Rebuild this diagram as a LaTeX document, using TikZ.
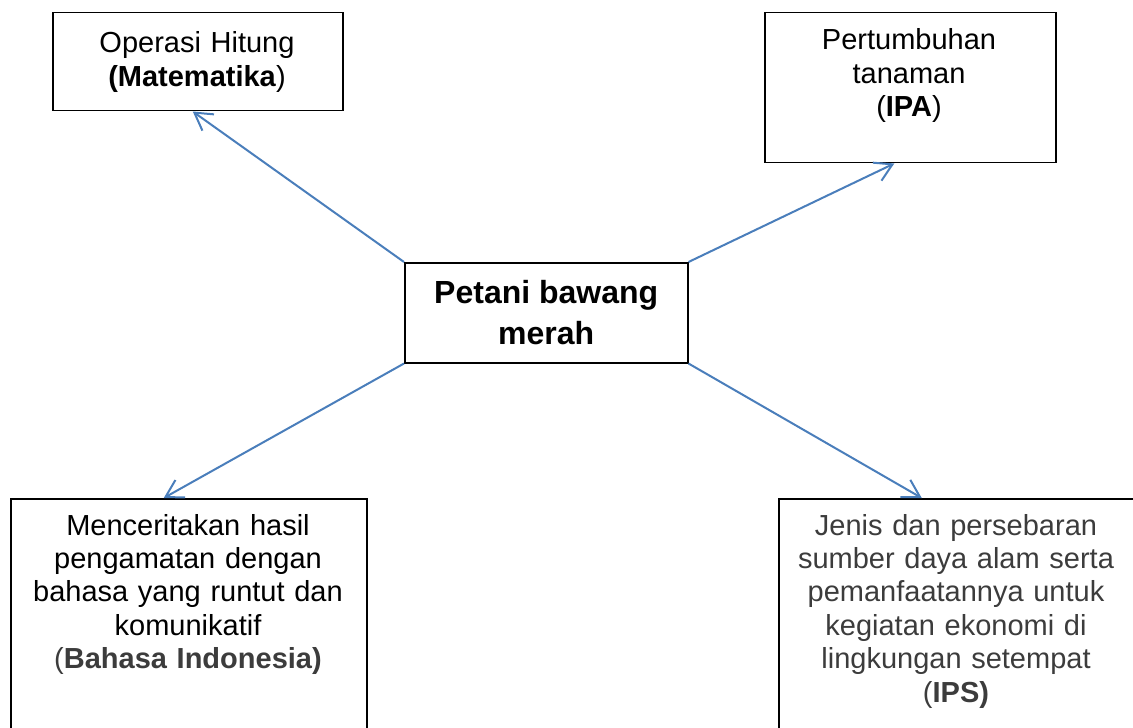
\documentclass[tikz,border=0pt]{standalone}
\usepackage{fontspec}
\setmainfont{Liberation Sans}
\usetikzlibrary{positioning, arrows.meta}
\definecolor{biru}{RGB}{74,126,187}
\definecolor{abu}{RGB}{60,60,60}

\begin{document}
\begin{tikzpicture}[x=0.5pt, y=-0.5pt,
  kotak/.style={draw, line width=0.75pt, rectangle, inner sep=0pt, anchor=north west},
  isi/.style={inner sep=0pt, text width=185pt, align=center, anchor=base, font=\fontsize{14.5}{16.7}\selectfont},
  panah/.style={draw=biru, line width=1pt, -{Straight Barb[length=8.5pt,width=10pt]}}]
\useasboundingbox (0,0) rectangle (1133,727);
\node [kotak, minimum width=145pt, minimum height=49pt] (mat) at (52,12) {};
\node [kotak, minimum width=145.5pt, minimum height=75pt] (ipa) at (764,12) {};
\node [kotak, minimum width=178pt, minimum height=130pt] (bind) at (10,498) {};
\node [kotak, minimum width=178pt, minimum height=130pt] (ips) at (778,498) {};
\node [kotak, minimum width=141.5pt, minimum height=50pt, align=center, font=\bfseries\fontsize{16}{20.5}\selectfont] (pusat) at (404,262) {Petani bawang\\merah};
\node [isi] (mat-t) at (197,53) {Operasi Hitung\\\textbf{(Matematika})};
\node [isi] (ipa-t) at (909,50) {Pertumbuhan\\tanaman\\(\textbf{IPA})};
\node [isi] (bind-t) at (188,535) {Menceritakan hasil\\pengamatan dengan\\bahasa yang runtut dan\\komunikatif\\{\color{abu}(\textbf{Bahasa Indonesia)}}};
\node [isi, text=abu] (ips-t) at (956,535) {Jenis dan persebaran\\sumber daya alam serta\\pemanfaatannya untuk\\kegiatan ekonomi di\\lingkungan setempat\\(\textbf{IPS)}};
\draw [panah] (pusat.north west) -- ([xshift=-2.5pt]mat.south);
\draw [panah] (pusat.north east) -- ([xshift=-8pt]ipa.south);
\draw [panah] (pusat.south west) -- ([xshift=-12.5pt]bind.north);
\draw [panah] (pusat.south east) -- ([xshift=-17.5pt]ips.north);
\end{tikzpicture}
\end{document}
